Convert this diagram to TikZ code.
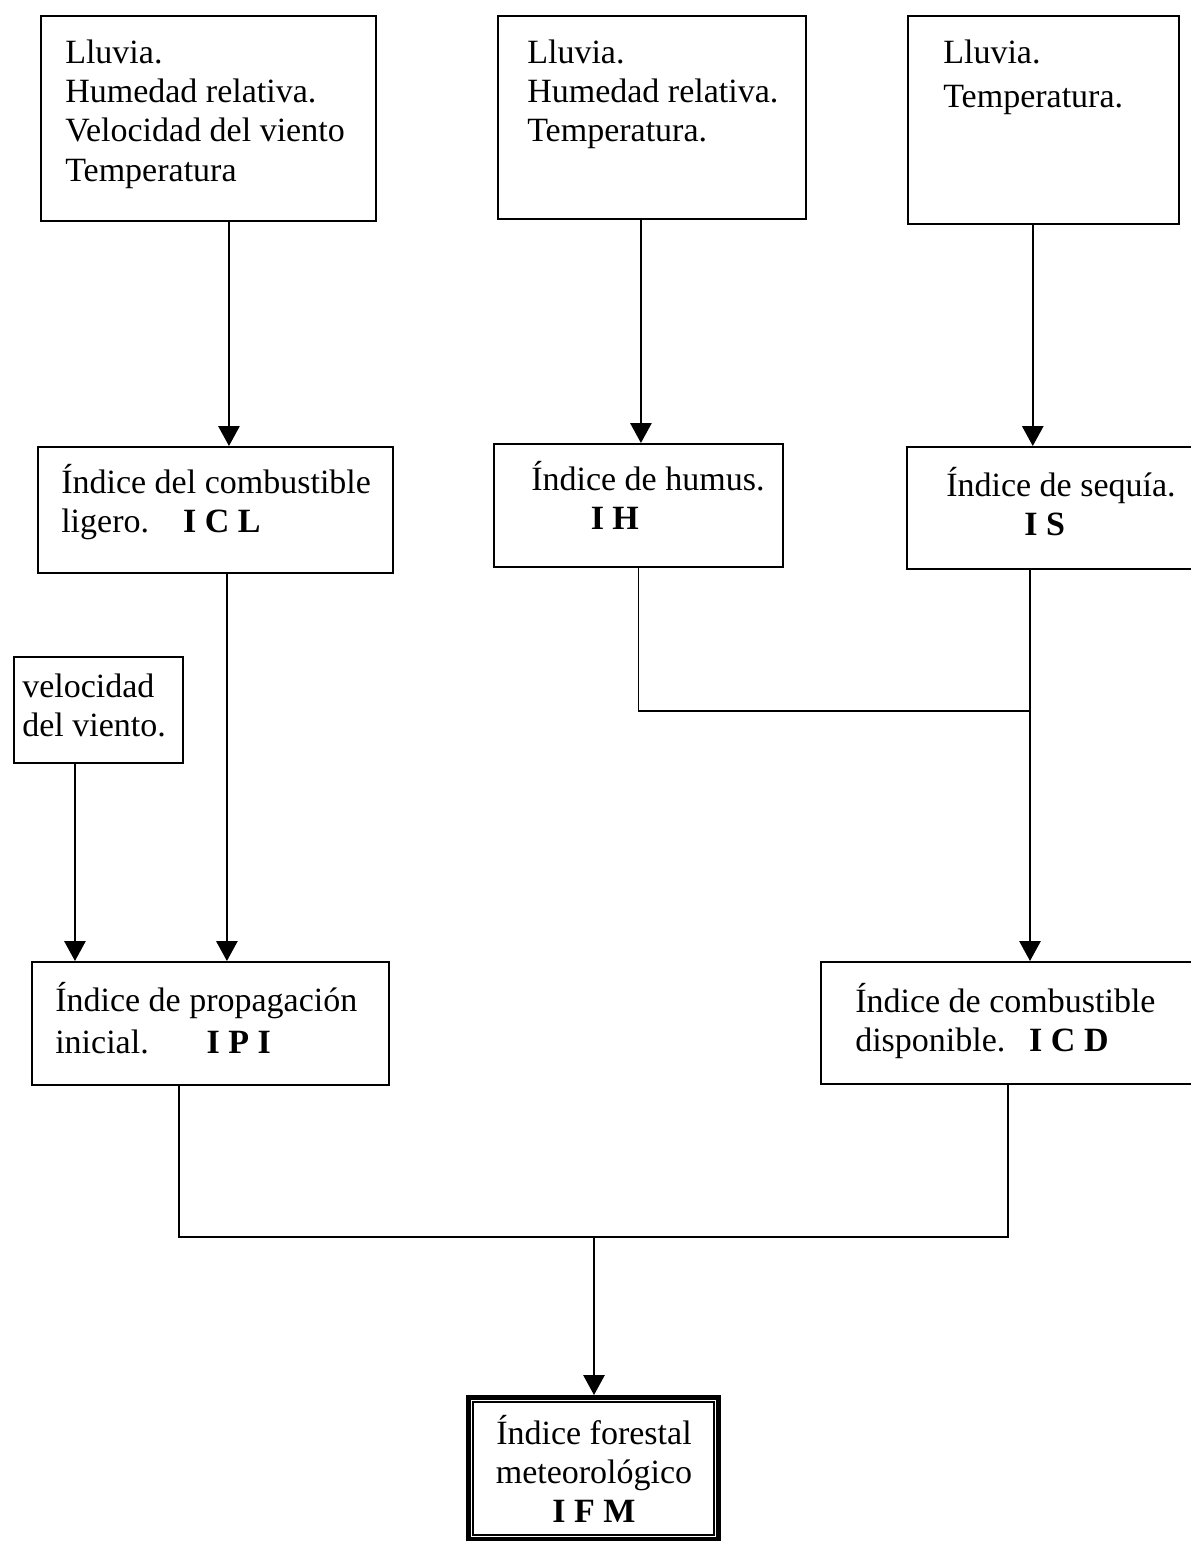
\documentclass[tikz,border=0pt]{standalone}
\usepackage{fontspec}
\setmainfont{Liberation Serif}
\usetikzlibrary{arrows.meta}
\newcommand{\tstrut}{\rule{0pt}{24pt}}

\begin{document}
\begin{tikzpicture}[x=0.75pt, y=-0.75pt,
    font=\fontsize{25.5}{29.5}\selectfont,
    box/.style={draw, line width=1.4pt, anchor=north west, inner sep=0pt},
    txt/.style={anchor=north west, align=left, inner sep=0pt},
    ln/.style={line width=1.4pt},
    arr/.style={ln, -{Triangle[length=15pt, width=16pt]}}]
            \useasboundingbox (0,0) rectangle (1191,1541);

            \node[box, minimum width=251.25pt, minimum height=153.75pt] (datosICL) at (40,15) {};
            \node[txt] (datosICL-t) at (65,31) {\tstrut Lluvia.\\Humedad relativa.\\Velocidad del viento\\Temperatura};

            \node[box, minimum width=231pt, minimum height=152.25pt] (datosIH) at (497,15) {};
            \node[txt] (datosIH-t) at (527,31) {\tstrut Lluvia.\\Humedad relativa.\\Temperatura.};

            \node[box, minimum width=203.25pt, minimum height=156pt] (datosIS) at (907,15) {};
            \node[txt] (datosIS-t) at (943,31) {\tstrut Lluvia.\\[3.5pt]Temperatura.};

            \node[box, minimum width=266.25pt, minimum height=94.5pt] (icl) at (37,446) {};
            \node[txt] (icl-t) at (61,461) {\tstrut Índice del combustible\\ligero.\quad\textbf{I C L}};

            \node[box, minimum width=216.75pt, minimum height=92.25pt] (ih) at (493,443) {};
            \node[txt] (ih-t) at (531,458) {\tstrut Índice de humus.\\\hspace*{1.75em}\textbf{I H}};

            \node[box, minimum width=225pt, minimum height=91.5pt] (is) at (906,446) {};
            \node[txt] (is-t) at (946,464) {\tstrut Índice de sequía.\\\hspace*{2.3em}\textbf{I S}};

            \node[box, minimum width=126.75pt, minimum height=79.5pt] (viento) at (13,656) {};
            \node[txt] (viento-t) at (22,665) {\tstrut velocidad\\del viento.};

            \node[box, minimum width=267.75pt, minimum height=92.25pt] (ipi) at (31,961) {};
            \node[txt] (ipi-t) at (55,979) {\tstrut Índice de propagación\\[2.5pt]inicial.\hspace{1.7em}\textbf{I P I}};

            \node[box, minimum width=292.5pt, minimum height=91.5pt] (icd) at (820,961) {};
            \node[txt] (icd-t) at (855,980) {\tstrut Índice de combustible\\disponible.\hspace{0.7em}\textbf{I C D}};

            \node[box, line width=4pt, minimum width=187.5pt, minimum height=106.5pt] (ifm) at (466,1395) {};
            \draw[line width=1.4pt] ([shift={(5.25pt,-5.25pt)}]ifm.north west) rectangle ([shift={(-5.25pt,5.25pt)}]ifm.south east);
            \node[txt, anchor=north, align=center] (ifm-t) at (594,1412) {\tstrut Índice forestal\\meteorológico\\\textbf{I F M}};

            \coordinate (unionIS) at (1030,711);
            \coordinate (unionIFM) at (594,1237);

            \draw[arr] ([xshift=15.4pt]datosICL.south) -- ([xshift=15.4pt]datosICL.south |- icl.north);
            \draw[arr] ([xshift=-8.25pt]datosIH.south) -- ([xshift=-8.25pt]datosIH.south |- ih.north);
            \draw[arr] ([xshift=-8pt]datosIS.south) -- ([xshift=-8pt]datosIS.south |- is.north);

            \draw[arr] ([xshift=8.6pt]icl.south) -- ([xshift=8.6pt]icl.south |- ipi.north);
            \draw[arr] ([xshift=-17.6pt]viento.south) -- ([xshift=-17.6pt]viento.south |- ipi.north);

            \draw[ln] (ih.south) |- (unionIS);
            \draw[arr] (unionIS |- is.south) -- (unionIS |- icd.north);

            \draw[ln] ([xshift=-23.6pt]ipi.south) |- (unionIFM) -| ([xshift=-6pt]icd.south);
            \draw[arr] (unionIFM) -- (unionIFM |- ifm.north);
        \end{tikzpicture}
\end{document}
